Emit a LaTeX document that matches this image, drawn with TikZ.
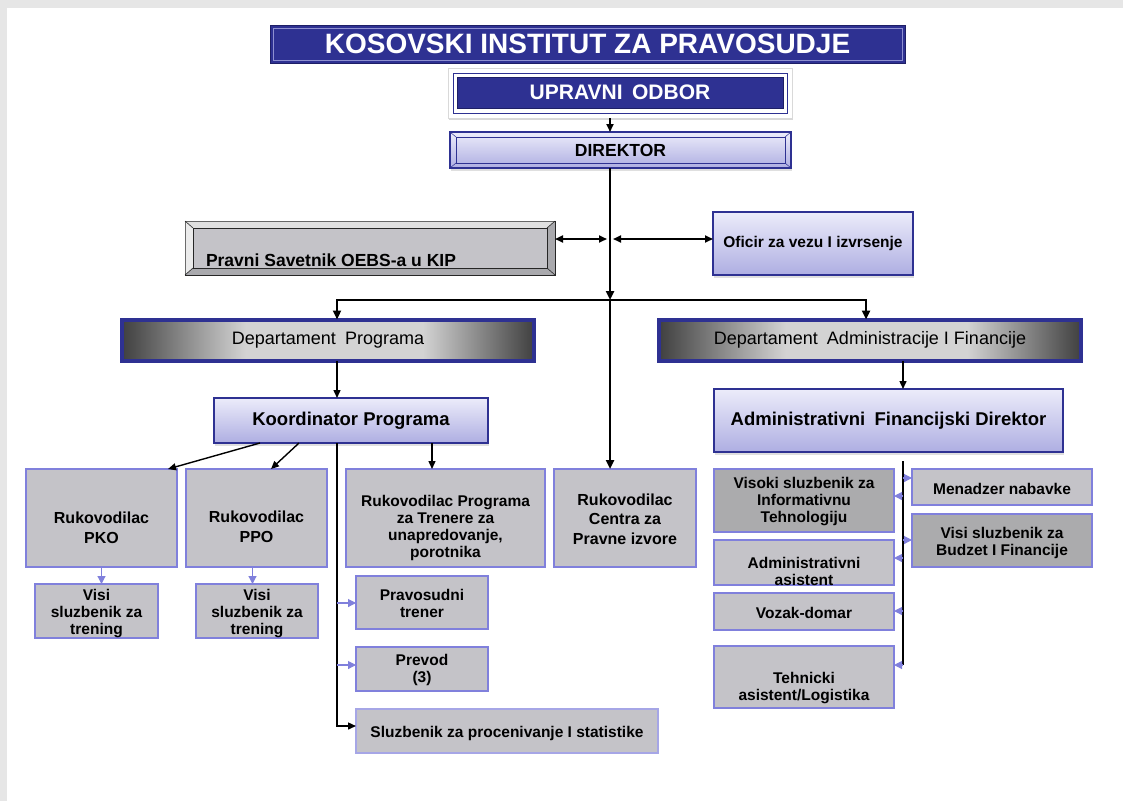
\documentclass[tikz,border=0pt]{standalone}
\usepackage{fontspec}
\setmainfont{Liberation Sans}
\usetikzlibrary{arrows.meta,shadows,calc}
\definecolor{navy}{HTML}{2E3192}
\definecolor{navydk}{HTML}{1E1F66}
\definecolor{navylt}{HTML}{8E90D0}
\definecolor{lavtop}{HTML}{ECECFA}
\definecolor{lavbot}{HTML}{AEAEE2}
\definecolor{greyf}{HTML}{C4C3C8}
\definecolor{dgreyf}{HTML}{ABABAD}
\definecolor{pravout}{HTML}{A9A9AD}
\definecolor{bluebd}{HTML}{8080DC}
\definecolor{dkone}{HTML}{404040}
\definecolor{ltone}{HTML}{D3D3D3}
\definecolor{bgstrip}{HTML}{E6E6E6}
\pgfdeclarehorizontalshading{deptshade}{100bp}{color(0bp)=(dkone); color(25bp)=(dkone); color(40bp)=(ltone); color(61.5bp)=(ltone); color(75bp)=(dkone); color(100bp)=(dkone)}
\begin{document}
\begin{tikzpicture}[x=1pt,y=-1pt,
  base/.style={inner sep=0pt, outer sep=0pt},
  lavbox/.style={base, draw=navy, line width=1.3pt, top color=lavtop, bottom color=lavbot,
     drop shadow={shadow xshift=1pt, shadow yshift=-3pt, opacity=0.25}},
  gbox/.style={base, draw=bluebd, line width=1.3pt, fill=greyf},
  dgbox/.style={gbox, fill=dgreyf},
  gtxt/.style={base, font=\bfseries\fontsize{15.5}{17}\selectfont, align=center},
  htxt/.style={base, font=\bfseries\fontsize{16}{19.5}\selectfont, align=center},
  deptbox/.style={base, shade, shading=deptshade, draw=navy, line width=4pt, font=\fontsize{18}{20}\selectfont},
  blk/.style={draw=black, line width=1.4pt, -{Triangle[length=8pt,width=7pt]}},
  thick blk/.style={draw=black, line width=2.3pt, -{Triangle[length=9pt,width=8pt]}},
  dbl/.style={draw=black, line width=1.8pt, {Triangle[length=8pt,width=7pt]}-{Triangle[length=8pt,width=7pt]}},
  blu/.style={draw=bluebd, line width=1.1pt, -{Triangle[length=8pt,width=8pt]}},
]
\useasboundingbox (0,0) rectangle (1123,801);
\fill[white] (0,0) rectangle (1123,801);
\fill[bgstrip] (0,0) rectangle (1123,8);
\fill[bgstrip] (0,0) rectangle (7,801);

% ---------- title ----------
\node[base, fill=navy, draw=navydk, line width=1pt, minimum width=635pt, minimum height=38pt,
      text=white, font=\bfseries\fontsize{28}{30}\selectfont] (title) at (587.5,44) {KOSOVSKI INSTITUT ZA PRAVOSUDJE};
\draw[navylt, line width=0.8pt] ([shift={(3pt,-3pt)}]title.north west) rectangle ([shift={(-3pt,3pt)}]title.south east);

% ---------- upravni odbor ----------
\node[base, fill=white, draw=black!15, line width=0.6pt, minimum width=344pt, minimum height=50pt,
      drop shadow={shadow xshift=1pt, shadow yshift=-2pt, opacity=0.3}] (upo) at (620,93) {};
\draw[navy, line width=0.6pt] ([shift={(5pt,-5pt)}]upo.north west) rectangle ([shift={(-5pt,5pt)}]upo.south east);
\node[base, fill=navy, draw=navydk, line width=0.8pt, minimum width=326pt, minimum height=31pt,
      text=white, font=\bfseries\fontsize{21}{24}\selectfont] (upravni) at (620,92.5) {UPRAVNI\hspace{0.45em}ODBOR};

% ---------- direktor ----------
\node[lavbox, minimum width=341pt, minimum height=36pt, font=\bfseries\fontsize{17.5}{20}\selectfont] (dir) at (620.5,150) {DIREKTOR};
\draw[navy, line width=0.6pt] ([shift={(6pt,-5pt)}]dir.north west) rectangle ([shift={(-6pt,5pt)}]dir.south east);
\draw[navy, line width=0.5pt] (dir.north west) -- ([shift={(6pt,-5pt)}]dir.north west)
  (dir.north east) -- ([shift={(-6pt,-5pt)}]dir.north east)
  (dir.south west) -- ([shift={(6pt,5pt)}]dir.south west)
  (dir.south east) -- ([shift={(-6pt,5pt)}]dir.south east);

% ---------- pravni savetnik ----------
\node[base, fill=pravout, draw=black!85, line width=1pt, minimum width=370pt, minimum height=54pt] (pravni) at (370,248) {};
\fill[black!12] ([shift={(0.5pt,-0.5pt)}]pravni.north west) -- ([shift={(-0.5pt,-0.5pt)}]pravni.north east)
   -- ([shift={(-8pt,-7pt)}]pravni.north east) -- ([shift={(8pt,-7pt)}]pravni.north west) -- cycle;
\fill[black!8] ([shift={(0.5pt,-0.5pt)}]pravni.north west) -- ([shift={(8pt,-7pt)}]pravni.north west)
   -- ([shift={(8pt,7pt)}]pravni.south west) -- ([shift={(0.5pt,0.5pt)}]pravni.south west) -- cycle;
\draw[black!85, line width=0.8pt, fill=greyf] ([shift={(8pt,-7pt)}]pravni.north west) rectangle ([shift={(-8pt,7pt)}]pravni.south east);
\draw[black!85, line width=0.6pt] (pravni.north west) -- ([shift={(8pt,-7pt)}]pravni.north west)
  (pravni.north east) -- ([shift={(-8pt,-7pt)}]pravni.north east)
  (pravni.south west) -- ([shift={(8pt,7pt)}]pravni.south west)
  (pravni.south east) -- ([shift={(-8pt,7pt)}]pravni.south east);
\node[base, anchor=base west, font=\bfseries\fontsize{17.5}{20}\selectfont] (pravnit) at (206,266) {Pravni Savetnik OEBS-a u KIP};

% ---------- oficir ----------
\node[lavbox, minimum width=200pt, minimum height=63pt, font=\bfseries\fontsize{15.5}{17}\selectfont] (oficir) at (813,243.5) {Oficir za vezu I izvrsenje};

% ---------- departments ----------
\node[deptbox, minimum width=412pt, minimum height=41pt] (deptP) at (328,340) {Departament\hspace{0.5em}Programa};
\node[deptbox, minimum width=422pt, minimum height=41pt] (deptA) at (870,340) {Departament\hspace{0.5em}Administracije I Financije};

% ---------- coordinators ----------
\node[lavbox, minimum width=274pt, minimum height=45pt, font=\bfseries\fontsize{18.5}{21}\selectfont] (koord) at (351,420.5) {Koordinator Programa};
\node[lavbox, minimum width=349pt, minimum height=63pt, font=\bfseries\fontsize{18.5}{21}\selectfont] (afd) at (888.5,420.5) {Administrativni\hspace{0.5em}Financijski Direktor};

% ---------- program side ----------
\node[gbox, minimum width=151pt, minimum height=98pt, label={[htxt, yshift=-10pt]center:{Rukovodilac\\PKO}}] (pko) at (101.5,518) {};
\node[gbox, minimum width=141pt, minimum height=98pt, label={[htxt, yshift=-9pt]center:{Rukovodilac\\PPO}}] (ppo) at (256.5,518) {};
\node[gbox, minimum width=199pt, minimum height=98pt, label={[gtxt, yshift=-10pt]center:{Rukovodilac Programa\\za Trenere za\\unapredovanje,\\porotnika}}] (rp) at (445.5,518) {};
\node[gbox, minimum width=142pt, minimum height=98pt, label={[htxt, yshift=-1pt]center:{Rukovodilac\\Centra za\\Pravne izvore}}] (centra) at (625,518) {};

\node[gbox, minimum width=123pt, minimum height=54pt, label={[gtxt, yshift=-3pt]center:{Visi\\sluzbenik za\\trening}}] (visipko) at (96.5,611) {};
\node[gbox, minimum width=122pt, minimum height=54pt, label={[gtxt, yshift=-3pt]center:{Visi\\sluzbenik za\\trening}}] (visippo) at (257,611) {};
\node[gbox, minimum width=132pt, minimum height=53pt, label={[gtxt, yshift=-1pt]center:{Pravosudni\\trener}}] (pravos) at (422,602.5) {};
\node[gbox, minimum width=132pt, minimum height=44pt, label={[gtxt, yshift=-1pt]center:{Prevod\\(3)}}] (prevod) at (422,669) {};
\node[gbox, draw=bluebd!70, minimum width=302pt, minimum height=44pt, label={[gtxt, yshift=-2pt]center:{Sluzbenik za procenivanje I statistike}}] (sluzb) at (507,731) {};

% ---------- admin side ----------
\node[dgbox, minimum width=180pt, minimum height=63pt, label={[gtxt, yshift=-1pt]center:{Visoki sluzbenik za\\Informativnu\\Tehnologiju}}] (visoki) at (804,500.5) {};
\node[gbox, minimum width=180pt, minimum height=36pt, label={[gtxt, yshift=-2pt]center:{Menadzer nabavke}}] (menadz) at (1002,487) {};
\node[dgbox, minimum width=180pt, minimum height=53pt, label={[gtxt, yshift=-2pt]center:{Visi sluzbenik za\\Budzet I Financije}}] (budzet) at (1002,540.5) {};
\node[gbox, minimum width=180pt, minimum height=45pt, label={[gtxt, yshift=-9pt]center:{Administrativni\\asistent}}] (adminas) at (804,562.5) {};
\node[gbox, minimum width=180pt, minimum height=37pt, label={[gtxt, yshift=-1pt]center:{Vozak-domar}}] (vozak) at (804,611.5) {};
\node[gbox, minimum width=180pt, minimum height=62pt, label={[gtxt, yshift=-11pt]center:{Tehnicki\\asistent/Logistika}}] (tehn) at (804,677) {};

% ---------- connectors: top ----------
\coordinate (mx) at (610,0);
\coordinate (jn) at (610,300);
\draw[blk, line width=1.8pt] (upo.south -| mx) -- (dir.north -| mx);
\draw[thick blk] (dir.south -| mx) -- (jn);
\draw[thick blk] (jn) -- (centra.north -| mx);
\coordinate (dl) at (607,239);
\coordinate (dr) at (613,239);
\draw[dbl] (pravni.east |- dl) -- (dl);
\draw[dbl] (dr) -- (oficir.west |- dr);
\coordinate (hl) at (337,300);
\coordinate (hr) at (866,300);
\draw[line width=2.2pt, {Triangle[length=9pt,width=8pt]}-{Triangle[length=9pt,width=8pt]}]
   (hl |- deptP.north) -- (hl) -- (hr) -- (hr |- deptA.north);

% ---------- connectors: program side ----------
\coordinate (lx) at (337,0);
\draw[blk] (deptP.south -| lx) -- (koord.north -| lx);
\draw[blk] ([xshift=-91pt]koord.south) -- ([xshift=-9pt]pko.north east);
\draw[blk] ([xshift=-52pt]koord.south) -- ([xshift=14.5pt]ppo.north);
\coordinate (rpx) at (432,0);
\draw[blk] (koord.south -| rpx) -- (rp.north -| rpx);
\coordinate (l1) at (337,603);
\coordinate (l2) at (337,665);
\coordinate (l3) at (337,726);
\draw[blk] (koord.south -| lx) -- (l3) -- (l3 -| sluzb.west);
\draw[blu] (l1) -- (l1 -| pravos.west);
\draw[blu] (l2) -- (l2 -| prevod.west);
\draw[blu] (pko.south) -- (pko.south |- visipko.north);
\draw[blu] ([xshift=-4pt]ppo.south) -- ([xshift=-4pt]ppo.south |- visippo.north);

% ---------- connectors: admin side ----------
\coordinate (ax) at (903,0);
\draw[blk] (deptA.south -| ax) -- (afd.north -| ax);
\coordinate (rc1) at (903,461);
\coordinate (rc2) at (903,665);
\draw[line width=1.8pt] (rc1) -- (rc2);
\coordinate (r1) at (903,478);
\coordinate (r2) at (903,496);
\coordinate (r3) at (903,540);
\coordinate (r4) at (903,558);
\coordinate (r5) at (903,611);
\coordinate (r6) at (903,665);
\draw[blu] (r1) -- (r1 -| menadz.west);
\draw[blu] (r2) -- (r2 -| visoki.east);
\draw[blu] (r3) -- (r3 -| budzet.west);
\draw[blu] (r4) -- (r4 -| adminas.east);
\draw[blu] (r5) -- (r5 -| vozak.east);
\draw[blu] (r6) -- (r6 -| tehn.east);
\end{tikzpicture}
\end{document}
